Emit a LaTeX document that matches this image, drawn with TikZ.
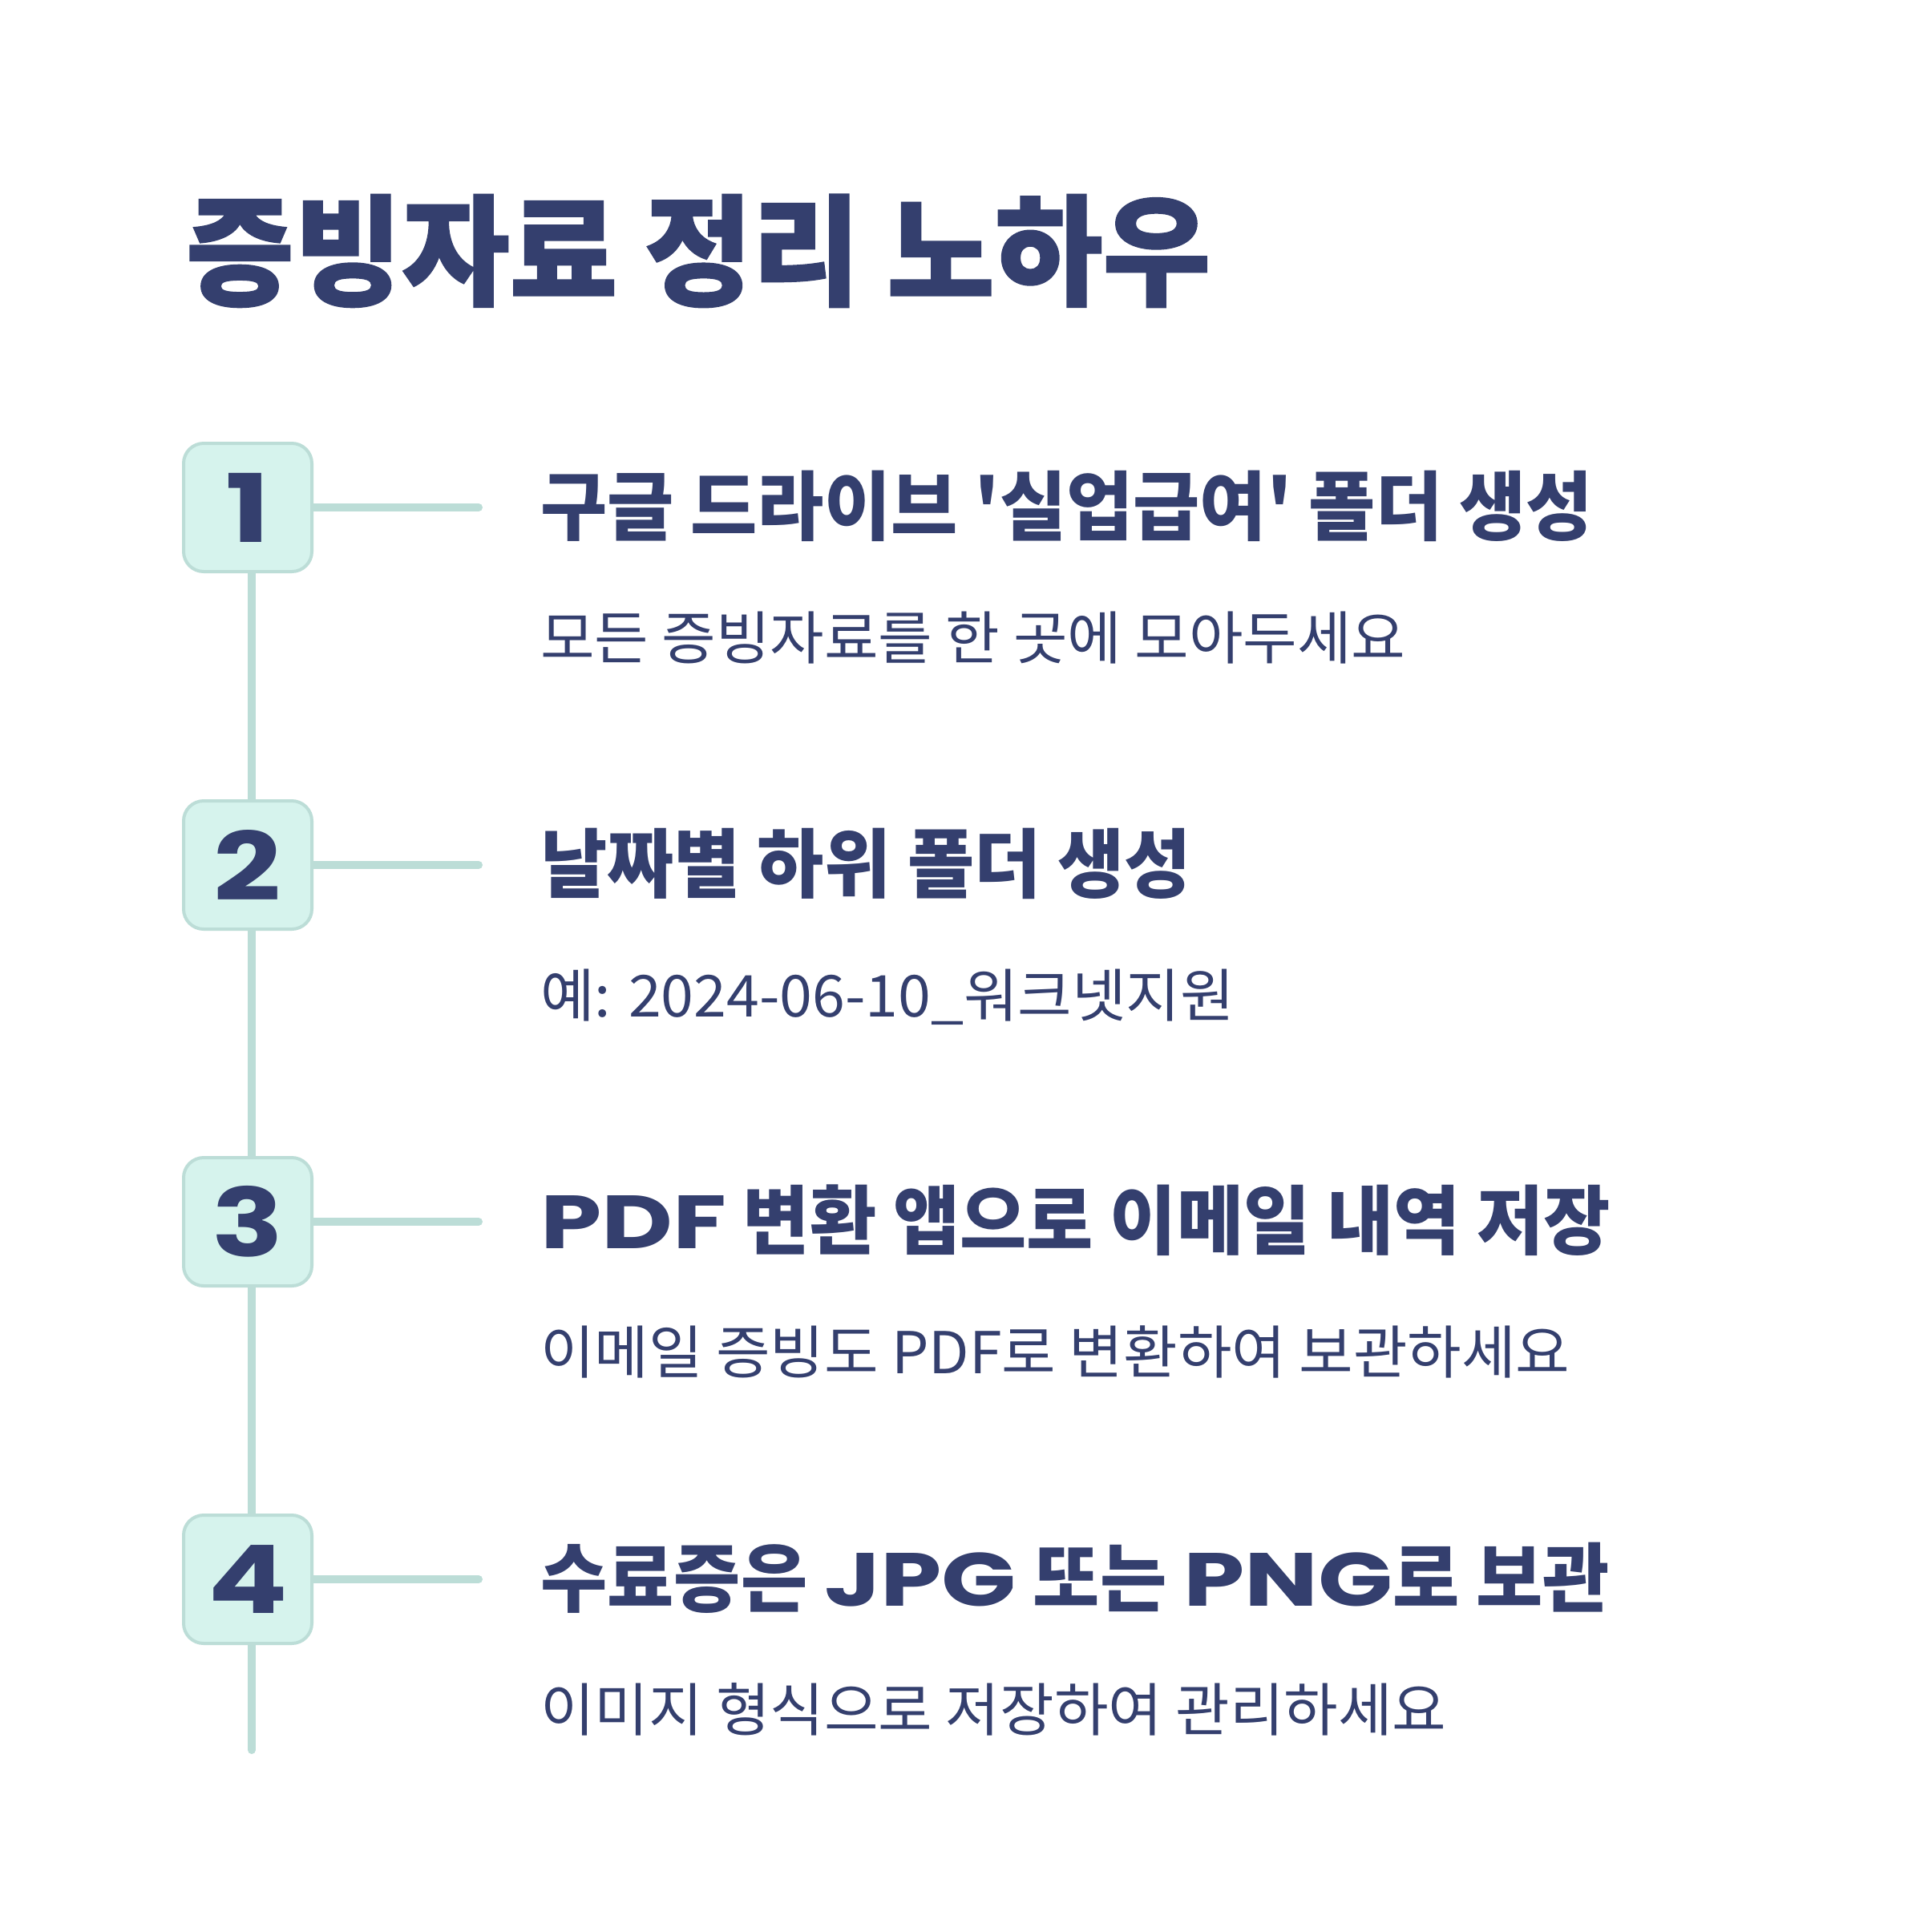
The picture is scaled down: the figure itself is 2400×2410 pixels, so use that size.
\documentclass[tikz,border=0pt]{standalone}
\usepackage{fontspec}
\newfontfamily\krT[FakeStretch=0.975,FakeBold=1.2]{Noto Sans CJK KR}
\newfontfamily\krH[FakeStretch=0.963]{Noto Sans CJK KR}
\newfontfamily\krS[FakeStretch=1.02]{Noto Sans CJK KR}
\newfontfamily\latH[FakeStretch=1.30]{Poppins}
\newfontfamily\numF[FakeStretch=1.25]{Poppins}
\definecolor{navy}{RGB}{52,63,110}
\definecolor{boxfill}{RGB}{214,243,237}
\definecolor{lineclr}{RGB}{188,221,215}
\pgfdeclarelayer{bg}
\pgfsetlayers{bg,main}
\tikzset{
  numbox/.style={draw=lineclr, line width=4pt, fill=boxfill, rounded corners=25pt,
    minimum width=160pt, minimum height=160pt, inner sep=0pt, text=navy,
    font=\numF\bfseries\fontsize{118}{118}\selectfont},
  conn/.style={draw=lineclr, line width=10pt, line cap=round},
  titletext/.style={anchor=base west, inner sep=0pt, text=navy, font=\krT\bfseries\fontsize{150}{150}\selectfont},
  headtext/.style={anchor=base west, inner sep=0pt, text=navy, font=\krH\bfseries\fontsize{94}{94}\selectfont},
  subtext/.style={anchor=base west, inner sep=0pt, text=navy, font=\krS\fontsize{72}{72}\selectfont},
}
\newcommand{\lat}[1]{{\latH\bfseries #1}}
\begin{document}
\begin{tikzpicture}[x=1pt,y=-1pt]
\useasboundingbox (0,0) rectangle (2400,2410);

\node[titletext] (title) at (232,369) {증빙자료 정리 노하우};

\node[numbox] (b1) at (309,633) {1};
\node[numbox] (b2) at (309,1079) {2};
\node[numbox] (b3) at (309,1524) {3};
\node[numbox] (b4) at (309,1970) {4};

\coordinate (e1) at (597,633);
\coordinate (e2) at (597,1079);
\coordinate (e3) at (597,1524);
\coordinate (e4) at (597,1970);
\coordinate (vend) at (314,2183);

\begin{pgfonlayer}{bg}
  \fill[white] (0,0) rectangle (2400,2410);
  \draw[conn] (b1.center -| vend) -- (vend);
  \draw[conn] (b1.center) -- (e1);
  \draw[conn] (b2.center) -- (e2);
  \draw[conn] (b3.center) -- (e3);
  \draw[conn] (b4.center) -- (e4);
\end{pgfonlayer}

\node[headtext] (h1) at (674,666) {구글 드라이브 '실업급여' 폴더 생성};
\node[subtext] (s1) at (674,822) {모든 증빙자료를 한 곳에 모아두세요};

\node[headtext] (h2) at (674,1112) {날짜별 하위 폴더 생성};
\node[subtext] (s2) at (674,1268) {예: 2024-06-10\_워크넷지원};

\node[headtext] (h3) at (674,1557) {\lat{PDF} 변환 앱으로 이메일 내역 저장};
\node[subtext] (s3) at (674,1713) {이메일 증빙도 PDF로 변환하여 보관하세요};

\node[headtext] (h4) at (674,2003) {수료증은 \lat{JPG} 또는 \lat{PNG}로 보관};
\node[subtext] (s4) at (674,2159) {이미지 형식으로 저장하여 관리하세요};
\end{tikzpicture}
\end{document}
